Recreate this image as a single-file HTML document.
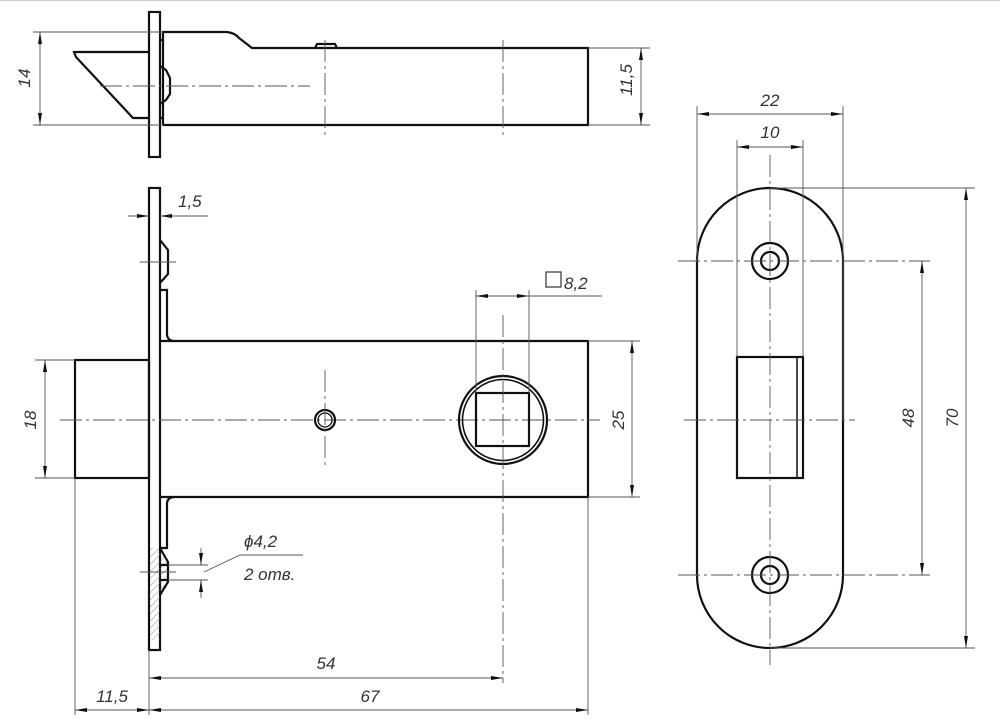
<!DOCTYPE html>
<html><head><meta charset="utf-8"><style>
html,body{margin:0;padding:0;background:#fff}
svg{display:block}
text{font-family:"Liberation Sans",sans-serif;font-style:italic;fill:#333;font-size:17px}
.t{stroke:#111;stroke-width:2.2;fill:none}
.n{stroke:#555;stroke-width:0.9;fill:none}
.c{stroke:#555;stroke-width:0.9;fill:none;stroke-dasharray:22 4 3 4}
</style></head><body>
<svg width="1000" height="723" viewBox="0 0 1000 723" xmlns="http://www.w3.org/2000/svg">
<defs>
<marker id="a" viewBox="0 0 12 6" refX="12" refY="3" markerWidth="12" markerHeight="6" orient="auto-start-reverse" markerUnits="userSpaceOnUse"><path d="M0,1 L12,3 L0,5z" fill="#111"/></marker>
<pattern id="h" width="5" height="5" patternUnits="userSpaceOnUse" patternTransform="rotate(45)"><line x1="0" y1="0" x2="0" y2="5" stroke="#777" stroke-width="0.8"/></pattern>
</defs>
<line x1="0" y1="0.5" x2="1000" y2="0.5" stroke="#ccc" stroke-width="1"/>

<!-- TOP VIEW -->
<rect x="149" y="12" width="11" height="145" class="t"/>
<path class="t" d="M163,125 L163,32 L227,32 Q235,33 239,38 L252,48 L588,48 L588,125 L163,125"/>
<path class="t" d="M315,48 L317,44 L335,44 L337,48"/>
<path class="t" d="M149,52 L74,52 L76,57 L133,118 L149,118"/>
<path class="t" d="M160,40 L163,40 M160,66 L166,70 L170,78 L170,94 L166,100 L160,104 M160,118 L163,118"/>
<line class="c" x1="100" y1="86" x2="310" y2="86"/>
<line class="c" x1="325" y1="40" x2="325" y2="137"/>
<line class="c" x1="503" y1="40" x2="503" y2="137"/>
<line class="n" x1="33" y1="32" x2="163" y2="32"/>
<line class="n" x1="33" y1="125" x2="163" y2="125"/>
<line class="n" x1="40" y1="32" x2="40" y2="125" marker-start="url(#a)" marker-end="url(#a)"/>
<text transform="translate(30,78) rotate(-90)" text-anchor="middle">14</text>
<line class="n" x1="588" y1="48" x2="650" y2="48"/>
<line class="n" x1="588" y1="125" x2="650" y2="125"/>
<line class="n" x1="641" y1="48" x2="641" y2="125" marker-start="url(#a)" marker-end="url(#a)"/>
<text transform="translate(632,80) rotate(-90)" text-anchor="middle">11,5</text>

<!-- FRONT VIEW -->
<rect x="149" y="188" width="11" height="462" class="t"/>
<path class="t" d="M160,341 L588,341 L588,497 L160,497"/>
<rect x="75" y="360" width="74" height="118" class="t"/>
<path class="t" d="M160,290 L167,290 L167,335 Q168,341 174,341"/>
<path class="t" d="M160,548 L167,548 L167,503 Q168,497 174,497"/>
<path class="t" d="M160,240 L168,250 L168,274 L160,283"/>
<path d="M150,548 L160,548 L168,562 L168,582 L160,595 L160,640 L150,640 Z" fill="url(#h)"/>
<path class="t" d="M160,548 L168,562 L168,582 L160,595 M160,565 L168,565 M160,580 L168,580"/>
<line class="n" x1="140" y1="262" x2="176" y2="262"/>
<line class="n" x1="140" y1="572" x2="176" y2="572"/>
<line class="c" x1="60" y1="420" x2="600" y2="420"/>
<circle cx="325" cy="420" r="10" class="t"/>
<circle cx="325" cy="420" r="7" stroke="#111" stroke-width="1.3" fill="none"/>
<line class="c" x1="325" y1="370" x2="325" y2="465"/>
<circle cx="503" cy="420" r="44" class="t"/>
<circle cx="503" cy="420" r="40.5" stroke="#111" stroke-width="1.6" fill="none"/>
<rect x="476" y="393" width="53" height="53" class="t"/>
<line class="c" x1="503" y1="315" x2="503" y2="683"/>
<line class="n" x1="476" y1="290" x2="476" y2="393"/>
<line class="n" x1="529" y1="290" x2="529" y2="393"/>
<line class="n" x1="476" y1="296" x2="529" y2="296" marker-start="url(#a)" marker-end="url(#a)"/>
<line class="n" x1="529" y1="296" x2="602" y2="296"/>
<rect x="546" y="272" width="15" height="15" fill="none" stroke="#333" stroke-width="1.2"/>
<text x="564" y="289">8,2</text>
<!-- 1,5 -->
<line class="n" x1="128" y1="216" x2="149" y2="216" marker-end="url(#a)"/>
<line class="n" x1="208" y1="216" x2="160" y2="216" marker-end="url(#a)"/>
<text x="178" y="207">1,5</text>
<!-- phi 4,2 -->
<line class="n" x1="168" y1="565" x2="208" y2="565"/>
<line class="n" x1="168" y1="580" x2="208" y2="580"/>
<line class="n" x1="201" y1="548" x2="201" y2="565" marker-end="url(#a)"/>
<line class="n" x1="201" y1="598" x2="201" y2="580" marker-end="url(#a)"/>
<polyline class="n" points="204,572 240,555 303,555"/>
<text x="244" y="547">ϕ4,2</text>
<text x="244" y="580">2 отв.</text>
<!-- 25 -->
<line class="n" x1="588" y1="341" x2="640" y2="341"/>
<line class="n" x1="588" y1="497" x2="640" y2="497"/>
<line class="n" x1="632" y1="341" x2="632" y2="497" marker-start="url(#a)" marker-end="url(#a)"/>
<text transform="translate(624,420) rotate(-90)" text-anchor="middle">25</text>
<!-- 18 -->
<line class="n" x1="35" y1="360" x2="75" y2="360"/>
<line class="n" x1="35" y1="478" x2="75" y2="478"/>
<line class="n" x1="45" y1="360" x2="45" y2="478" marker-start="url(#a)" marker-end="url(#a)"/>
<text transform="translate(36,420) rotate(-90)" text-anchor="middle">18</text>
<!-- bottom dims -->
<line class="n" x1="75" y1="478" x2="75" y2="715"/>
<line class="n" x1="149" y1="650" x2="149" y2="715"/>
<line class="n" x1="588" y1="497" x2="588" y2="715"/>
<line class="n" x1="149" y1="678" x2="503" y2="678" marker-start="url(#a)" marker-end="url(#a)"/>
<text x="326" y="669" text-anchor="middle">54</text>
<line class="n" x1="149" y1="710" x2="588" y2="710" marker-start="url(#a)" marker-end="url(#a)"/>
<text x="370" y="702" text-anchor="middle">67</text>
<line class="n" x1="75" y1="710" x2="149" y2="710" marker-start="url(#a)" marker-end="url(#a)"/>
<text x="112" y="702" text-anchor="middle">11,5</text>

<!-- STRIKE PLATE -->
<path class="t" d="M697,261 A73,73 0 0 1 843,261 L843,575 A73,73 0 0 1 697,575 Z"/>
<circle cx="770" cy="261" r="18" class="t"/>
<circle cx="770" cy="261" r="9" class="t"/>
<circle cx="770" cy="575" r="18" class="t"/>
<circle cx="770" cy="575" r="9" class="t"/>
<rect x="737" y="357" width="66" height="121" class="t"/>
<line x1="797" y1="357" x2="797" y2="478" stroke="#111" stroke-width="1.5"/>
<line class="c" x1="684" y1="420" x2="855" y2="420"/>
<line class="c" x1="770" y1="155" x2="770" y2="665"/>
<line class="c" x1="678" y1="261" x2="930" y2="261"/>
<line class="c" x1="678" y1="575" x2="930" y2="575"/>
<line class="n" x1="697" y1="106" x2="697" y2="261"/>
<line class="n" x1="843" y1="106" x2="843" y2="420"/>
<line class="n" x1="697" y1="114" x2="843" y2="114" marker-start="url(#a)" marker-end="url(#a)"/>
<text x="770" y="106" text-anchor="middle">22</text>
<line class="n" x1="737" y1="140" x2="737" y2="357"/>
<line class="n" x1="803" y1="140" x2="803" y2="357"/>
<line class="n" x1="737" y1="147" x2="803" y2="147" marker-start="url(#a)" marker-end="url(#a)"/>
<text x="770" y="138" text-anchor="middle">10</text>
<line class="n" x1="922" y1="261" x2="922" y2="575" marker-start="url(#a)" marker-end="url(#a)"/>
<text transform="translate(914,418) rotate(-90)" text-anchor="middle">48</text>
<line class="n" x1="770" y1="188" x2="975" y2="188"/>
<line class="n" x1="770" y1="648" x2="975" y2="648"/>
<line class="n" x1="966" y1="188" x2="966" y2="648" marker-start="url(#a)" marker-end="url(#a)"/>
<text transform="translate(958,418) rotate(-90)" text-anchor="middle">70</text>
</svg>
</body></html>
